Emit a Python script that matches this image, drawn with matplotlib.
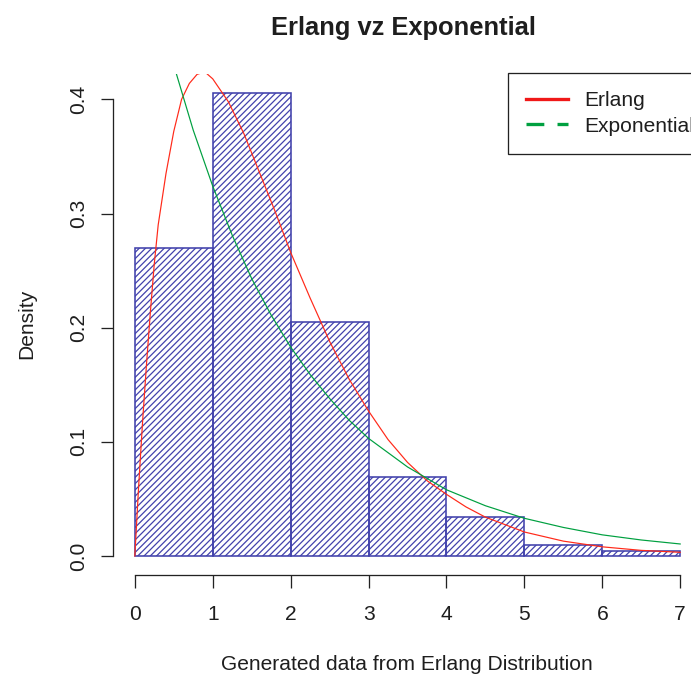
import matplotlib
matplotlib.use("Agg")
import matplotlib.pyplot as plt
from matplotlib.lines import Line2D

# ---- data ----
bin_edges = [0, 1, 2, 3, 4, 5, 6, 7]
hist_density = [0.270, 0.406, 0.205, 0.0696, 0.0345, 0.0092, 0.0044]

erlang_x = [0, 0.05, 0.1, 0.15, 0.2, 0.25, 0.3, 0.4, 0.5, 0.6, 0.7, 0.8, 0.9, 1.0,
            1.2, 1.4, 1.6, 1.8, 2.0, 2.25, 2.5, 2.75, 3.0, 3.25, 3.5, 3.75, 4.0,
            4.25, 4.5, 5.0, 5.5, 6.0, 6.5, 7.0]
erlang_y = [0, 0.062, 0.118, 0.168, 0.214, 0.256, 0.290, 0.335, 0.372, 0.400, 0.414,
            0.422, 0.424, 0.418, 0.398, 0.370, 0.336, 0.302, 0.266, 0.226, 0.188,
            0.155, 0.127, 0.102, 0.082, 0.066, 0.054, 0.043, 0.034, 0.021, 0.013,
            0.008, 0.0049, 0.0032]

expo_x = [0, 0.25, 0.5, 0.75, 1.0, 1.25, 1.5, 1.75, 2.0, 2.25, 2.5, 2.75, 3.0, 3.5,
          4.0, 4.5, 5.0, 5.5, 6.0, 6.5, 7.0]
expo_y = [0.570, 0.494, 0.430, 0.373, 0.324, 0.281, 0.243, 0.211, 0.183, 0.159,
          0.138, 0.119, 0.103, 0.078, 0.058, 0.044, 0.033, 0.025, 0.0185, 0.014,
          0.0105]

x_ticks = [0, 1, 2, 3, 4, 5, 6, 7]
y_ticks = [0.0, 0.1, 0.2, 0.3, 0.4]
y_tick_labels = ["0.0", "0.1", "0.2", "0.3", "0.4"]

title = "Erlang vz Exponential"
xlabel = "Generated data from Erlang Distribution"
ylabel = "Density"
legend_labels = ["Erlang", "Exponential"]

# ---- styling ----
DPI = 75
W, H = 691, 676
def pt(px):
    return px * 72.0 / DPI

plt.rcParams['font.family'] = ['Liberation Sans', 'DejaVu Sans']
plt.rcParams['hatch.linewidth'] = pt(1.25)

BAR_C = '#4242AC'
RED = '#FF2A1A'
GREEN = '#00A040'
TXT = '#1E1E1E'
FS = pt(21)

fig = plt.figure(figsize=(W / DPI, H / DPI), dpi=DPI)
fig.patch.set_facecolor('white')
ax = fig.add_axes([113 / W, (H - 574.5) / H, 589 / W, 500.5 / H])
ax.set_xlim(-0.28, 7.28)
ax.set_ylim(-0.01624, 0.42224)

widths = [bin_edges[i + 1] - bin_edges[i] for i in range(len(hist_density))]
ax.bar(bin_edges[:-1], hist_density, width=widths, align='edge', fill=False,
       hatch='////', edgecolor=BAR_C, linewidth=pt(1.6), zorder=2)

ax.plot(erlang_x, erlang_y, color=RED, linewidth=pt(1.2), zorder=3)
ax.plot(expo_x, expo_y, color=GREEN, linewidth=pt(1.2), zorder=4)

for s in ['top', 'right']:
    ax.spines[s].set_visible(False)
ax.spines['left'].set_bounds(0, 0.4)
ax.spines['bottom'].set_bounds(0, 7)
for s in ['left', 'bottom']:
    ax.spines[s].set_linewidth(pt(1.3))
    ax.spines[s].set_color('#222222')

ax.set_xticks(x_ticks)
ax.set_xticklabels([str(v) for v in x_ticks])
ax.set_yticks(y_ticks)
ax.set_yticklabels(y_tick_labels, rotation=90, va='center')
ax.tick_params(axis='both', length=pt(12.5), width=pt(1.3), color='#222222',
               labelsize=FS, labelcolor=TXT)
ax.tick_params(axis='x', pad=pt(18))
ax.tick_params(axis='y', pad=pt(12))

fig.text(403 / W, 1 - 28 / H, title, ha='center', va='center',
         fontsize=pt(25.5), fontweight='bold', color=TXT)
fig.text(407 / W, 1 - 664 / H, xlabel, ha='center', va='center',
         fontsize=FS, color=TXT)
fig.text(27 / W, 1 - 324 / H, ylabel, ha='center', va='center', rotation=90,
         fontsize=FS, color=TXT)

handles = [Line2D([], [], color='#F01818', linewidth=pt(3.3)),
           Line2D([], [], color='#00A040', linewidth=pt(3.3), dashes=(5.4, 4.0))]
leg = fig.legend(handles, legend_labels, loc='upper left',
                 bbox_to_anchor=(508 / W, 1 - 73 / H), bbox_transform=fig.transFigure,
                 fontsize=FS, frameon=True, fancybox=False, framealpha=1,
                 edgecolor='#222222', borderpad=0.86, labelspacing=0.31,
                 handlelength=2.0, handletextpad=0.75, borderaxespad=0)
leg.get_frame().set_linewidth(pt(1.3))
for t in leg.get_texts():
    t.set_color(TXT)

fig.savefig('out.png', dpi=DPI, facecolor='white')
